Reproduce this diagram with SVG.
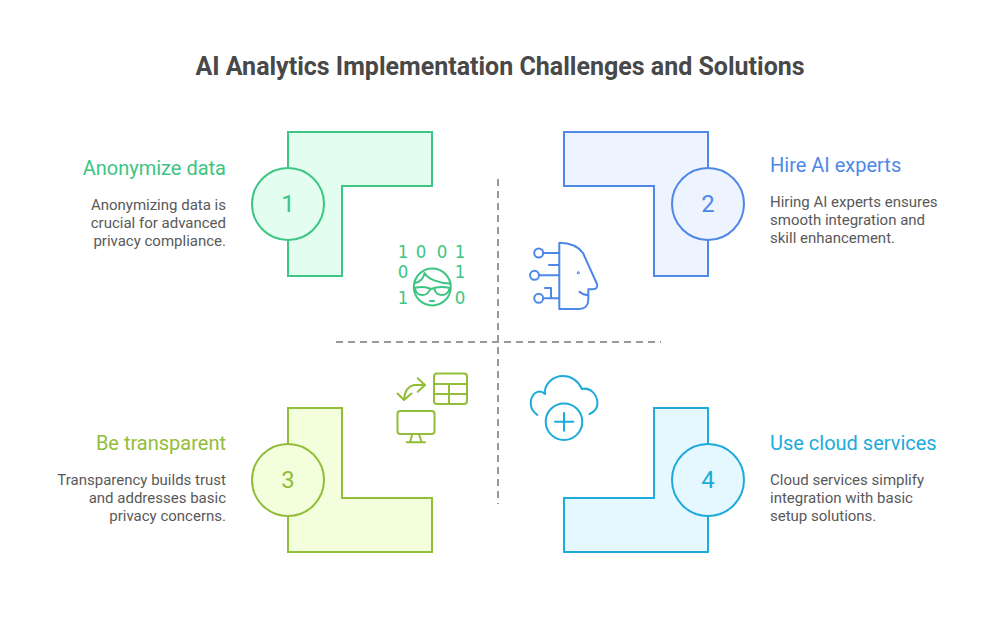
<svg xmlns="http://www.w3.org/2000/svg" width="1000" height="625" viewBox="0 0 1000 625">
<style>
text{font-family:Roboto,"Liberation Sans",sans-serif}
.t{font-size:25px;font-weight:700;fill:#484848;text-anchor:middle}
.h{font-size:20px}
.b{font-size:15px;fill:#595959}
.e{text-anchor:end}
.n{font-size:24px;text-anchor:middle}
.s{stroke-width:2;fill-rule:evenodd}
.i{fill:none;stroke-width:2;stroke-linecap:round;stroke-linejoin:round}
text.d{font-family:"DejaVu Sans Condensed","DejaVu Sans",sans-serif;font-size:18.5px;text-anchor:middle}
.g1{stroke:#3CC583}.g2{stroke:#4E88E7}.g3{stroke:#92BD39}.g4{stroke:#1CABDA}
.f1{fill:#3CC583}.f2{fill:#4E88E7}.f3{fill:#92BD39}.f4{fill:#1CABDA}
.l1{fill:#E3FDF0}.l2{fill:#EDF3FF}.l3{fill:#F3FEDD}.l4{fill:#E6F8FF}
</style>
<rect width="1000" height="625" fill="#fff"/>
<text class="t" x="500" y="75">AI Analytics Implementation Challenges and Solutions</text>
<g id="connectors" fill="none" stroke="#999" stroke-width="2" stroke-dasharray="7 5">
<path d="M498 179V504"/>
<path d="M336 342H661"/>
</g>
<g id="node-1">
<path class="g1 l1 s" d="M288 132H432V186H342V276H288Z"/>
<circle class="g1 l1" stroke-width="2" cx="288" cy="204" r="36"/>
<text class="n f1" x="288" y="212">1</text>
<text class="h f1 e" x="226" y="175">Anonymize data</text>
<text class="b e" x="226" y="210">Anonymizing data is</text>
<text class="b e" x="226" y="228">crucial for advanced</text>
<text class="b e" x="226" y="246">privacy compliance.</text>
</g>
<g id="node-2">
<path class="g2 l2 s" d="M564 132H708V276H654V186H564Z"/>
<circle class="g2 l2" stroke-width="2" cx="708" cy="204" r="36"/>
<text class="n f2" x="708" y="212">2</text>
<text class="h f2" x="770" y="172">Hire AI experts</text>
<text class="b" x="770" y="207">Hiring AI experts ensures</text>
<text class="b" x="770" y="225">smooth integration and</text>
<text class="b" x="770" y="243">skill enhancement.</text>
</g>
<g id="node-3">
<path class="g3 l3 s" d="M288 408H342V498H432V552H288Z"/>
<circle class="g3 l3" stroke-width="2" cx="288" cy="480" r="36"/>
<text class="n f3" x="288" y="488">3</text>
<text class="h f3 e" x="226" y="450">Be transparent</text>
<text class="b e" x="226" y="485">Transparency builds trust</text>
<text class="b e" x="226" y="503">and addresses basic</text>
<text class="b e" x="226" y="521">privacy concerns.</text>
</g>
<g id="node-4">
<path class="g4 l4 s" d="M654 408H708V552H564V498H654Z"/>
<circle class="g4 l4" stroke-width="2" cx="708" cy="480" r="36"/>
<text class="n f4" x="708" y="488">4</text>
<text class="h f4" x="770" y="450">Use cloud services</text>
<text class="b" x="770" y="485">Cloud services simplify</text>
<text class="b" x="770" y="503">integration with basic</text>
<text class="b" x="770" y="521">setup solutions.</text>
</g>
<g id="icon-1">
<text class="d f1" x="403" y="257.5">1</text><text class="d f1" x="421" y="257.5">0</text><text class="d f1" x="442" y="257.5">0</text><text class="d f1" x="460" y="257.5">1</text>
<text class="d f1" x="403" y="278">0</text><text class="d f1" x="460" y="278">1</text>
<text class="d f1" x="403" y="303.5">1</text><text class="d f1" x="460" y="303.5">0</text>
<g class="i g1">
<circle cx="432.3" cy="287" r="18.5"/>
<path d="M415 283C420 282 424 278 424.5 273C428 279 438 283 450.5 283.5"/>
<path d="M414.5 288C420 286.5 426 286.5 431 289C437 286.5 444 286.5 450 288"/>
<path d="M415 289C417 297 427 297 430 289.5M434.5 289.5C437 297 447 297 449.5 289"/>
<path d="M430 301H434"/>
</g>
</g>
<g id="icon-2" class="i g2">
<path d="M559.3 242.7C571 243 579 247 583 253L597 284Q598 289 593 289.3H588.3V300Q588 309 579 309H559.3Z"/>
<circle cx="538.7" cy="253" r="4.5"/>
<circle cx="534.5" cy="275.3" r="4.5"/>
<circle cx="538.7" cy="298.3" r="4.5"/>
<path d="M543.5 253H559M549 265H559M539.5 275.3H559M543.5 298.3H559M545 288H551V298M579.5 291.7Q584 295.5 588 295"/>
<circle cx="578.3" cy="272.7" r=".5"/>
</g>
<g id="icon-3" class="i g3">
<rect x="434" y="373.5" width="33" height="30.5" rx="3"/>
<path d="M434 384H467M434 394H467M449 384V404"/>
<path d="M425 385H414Q405 387 404 399"/>
<path d="M417.7 378.3L425 385L417.7 391.7M397.5 393.5L404 400L411.5 393.5"/>
<rect x="397.5" y="411" width="37" height="23" rx="3"/>
<path d="M412.3 434L410 442.3M419 434L421.7 442.3M406.7 442.3H425"/>
</g>
<g id="icon-4" class="i g4">
<path d="M537.3 415C532 411 530 405 531 400C533 392 540 389 545 394C544 384 553 376 563 376C571 376 578 381 582 389C590 387 597 394 597.5 403C597.5 408 594 412 589.5 414"/>
<circle cx="564" cy="421.7" r="18.3"/>
<path d="M564 413V430.7M555 421.7H573.3"/>
</g>
</svg>
